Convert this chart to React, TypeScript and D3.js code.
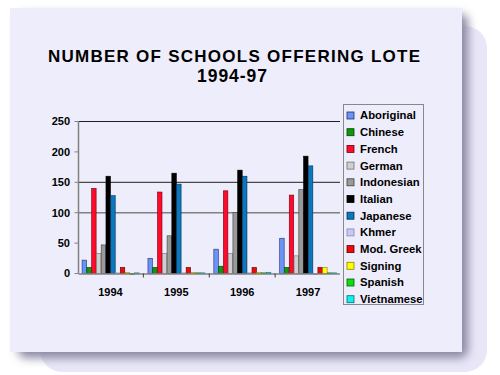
import React from "react";
import * as d3 from "d3";

const years = ["1994", "1995", "1996", "1997"];
const languages = [
  "Aboriginal", "Chinese", "French", "German", "Indonesian", "Italian",
  "Japanese", "Khmer", "Mod. Greek", "Signing", "Spanish", "Vietnamese",
];
const aboriginal = [22, 25, 40, 58];
const chinese = [10, 10, 12, 10];
const french = [140, 134, 136, 129];
const german = [33, 33, 33, 29];
const indonesian = [47, 62, 100, 138];
const italian = [160, 165, 170, 193];
const japanese = [128, 147, 160, 177];
const khmer = [1, 1, 1, 0];
const modGreek = [10, 10, 10, 10];
const signing = [2, 2, 2, 10];
const spanish = [0, 1, 1, 1];
const vietnamese = [1, 1, 2, 1];
const gridValues = [250, 150, 100];

const seriesValues = [
  aboriginal, chinese, french, german, indonesian, italian,
  japanese, khmer, modGreek, signing, spanish, vietnamese,
];
const fills = [
  "#6b93f5", "#0a9a0a", "#ff0a2a", "#cfcfcf", "#9a9a9a", "#000000",
  "#0a78c0", "#c8c8f8", "#ee0a0a", "#ffff00", "#10dd10", "#10f0f0",
];
const strokes = [
  "#203070", "#064006", "#700010", "#707070", "#404040", "#000000",
  "#043050", "#8888aa", "#600000", "#888800", "#066006", "#067070",
];

const FONT = "'Liberation Sans', Arial, sans-serif";

export default function App() {
  const left = 78.5, right = 340, top = 121.5, bottom = 273.5;
  const x0 = d3.scaleBand().domain(years).range([left, right]).paddingInner(0.13).paddingOuter(0.05);
  const x1 = d3.scaleBand().domain(languages).range([0, x0.bandwidth()]);
  const y = d3.scaleLinear().domain([0, 250]).range([bottom, top]);
  const ticks = y.ticks(5);

  return (
    <svg width={500} height={375} style={{ position: "absolute", left: 0, top: 0 }}>
      <defs>
        <filter id="blur" x="-10%" y="-10%" width="120%" height="120%">
          <feGaussianBlur stdDeviation="5" />
        </filter>
      </defs>
      <rect width={500} height={375} fill="#ffffff" />
      <rect x={40} y={26} width={447} height={346} rx={22} fill="#e8e6f7" />
      <rect x={18} y={14} width={450} height={344} rx={8} fill="#8a88a2" filter="url(#blur)" />
      <rect x={10} y={8} width={452} height={344} fill="#eeedfb" />

      <text x={234} y={62} textAnchor="middle" fontFamily={FONT} fontWeight="bold" fontSize={17}
        textLength={372} lengthAdjust="spacing" fill="#000">
        NUMBER OF SCHOOLS OFFERING LOTE
      </text>
      <text x={232} y={82} textAnchor="middle" fontFamily={FONT} fontWeight="bold" fontSize={17.5}
        textLength={70} lengthAdjust="spacing" fill="#000">
        1994-97
      </text>

      {gridValues.map(v => (
        <line key={v} x1={left} x2={right} y1={y(v)} y2={y(v)}
          stroke={v === 100 ? "#808080" : "#202020"} strokeWidth={v === 100 ? 1.6 : 1} />
      ))}

      {/* y axis */}
      <line x1={left} x2={left} y1={top} y2={bottom} stroke="#808080" strokeWidth={1.5} />
      {ticks.map(t => (
        <g key={t}>
          <line x1={left - 4} x2={left} y1={y(t)} y2={y(t)} stroke="#808080" />
          <text x={70} y={y(t)} dy="0.35em" textAnchor="end" fontFamily={FONT} fontWeight="bold" fontSize={11} fill="#000">{t}</text>
        </g>
      ))}

      {/* bars */}
      {years.map((yr, yi) => (
        <g key={yr} transform={`translate(${x0(yr)},0)`}>
          {languages.map((lang, li) => {
            const v = seriesValues[li][yi];
            const yTop = y(v);
            return (
              <rect key={lang} x={x1(lang)! + 0.3} y={yTop} width={x1.bandwidth() - 0.3}
                height={Math.max(bottom - yTop, 0.8)} fill={fills[li]} stroke={strokes[li]} strokeWidth={0.6} />
            );
          })}
        </g>
      ))}

      {/* x axis */}
      <line x1={left} x2={right} y1={bottom + 0.5} y2={bottom + 0.5} stroke="#808080" strokeWidth={1.5} />
      {years.slice(1).map(yr => (
        <line key={yr} x1={x0(yr)! - x0.step() * x0.paddingInner() / 2} x2={x0(yr)! - x0.step() * x0.paddingInner() / 2}
          y1={bottom} y2={bottom + 4} stroke="#404040" />
      ))}
      {years.map(yr => (
        <text key={yr} x={x0(yr)! + x0.bandwidth() / 2} y={296} textAnchor="middle" fontFamily={FONT}
          fontWeight="bold" fontSize={11} fill="#000">{yr}</text>
      ))}

      {/* legend */}
      <rect x={343.5} y={104.5} width={80} height={200} fill="#eeedfb" stroke="#888" />
      {languages.map((lang, i) => (
        <g key={lang} transform={`translate(347,${115.5 + i * 16.7})`}>
          <rect x={0} y={-3.5} width={7} height={7} fill={fills[i]} stroke={strokes[i]} strokeWidth={0.8} />
          <text x={13} y={0} dy="0.35em" fontFamily={FONT} fontWeight="bold" fontSize={11.3} fill="#000">{lang}</text>
        </g>
      ))}
    </svg>
  );
}
